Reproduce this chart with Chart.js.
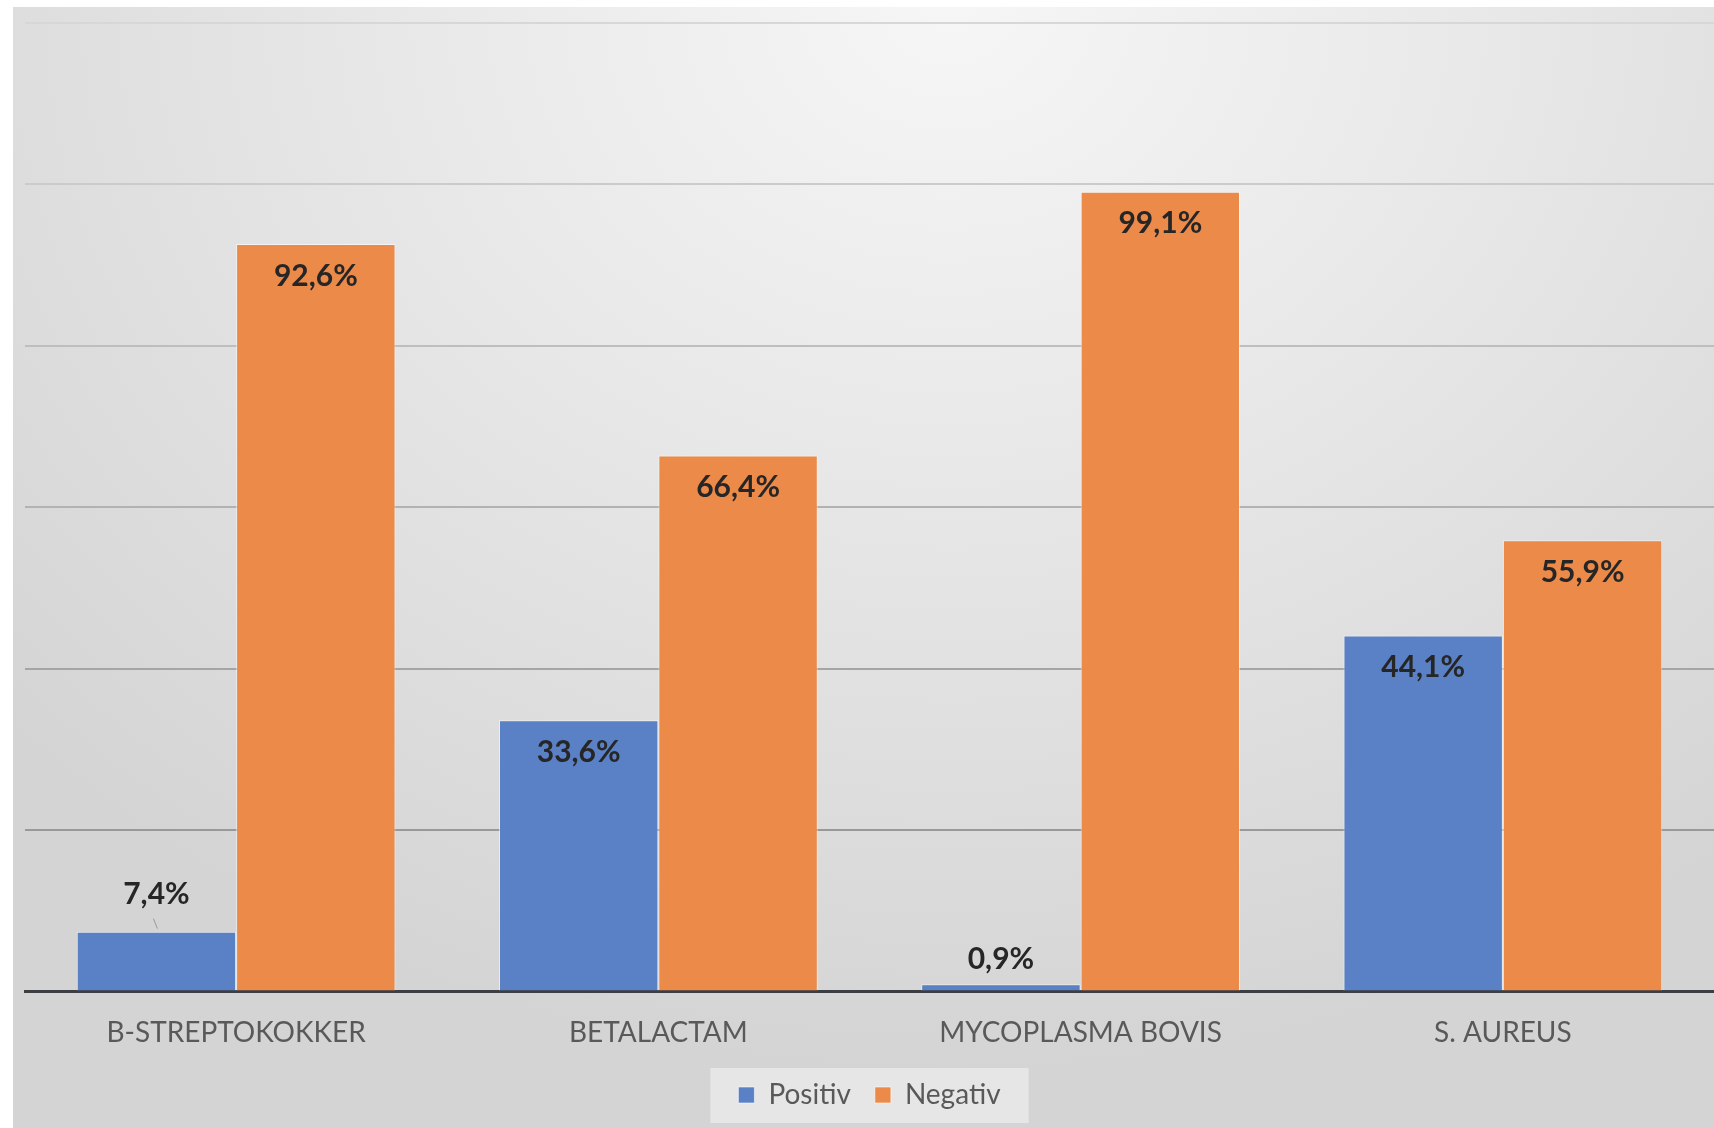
<!DOCTYPE html>
<html>
<head>
<meta charset="utf-8">
<script src="https://cdn.jsdelivr.net/npm/chart.js@4.4.1/dist/chart.umd.min.js"></script>
<style>
  html, body { margin: 0; padding: 0; background: #ffffff; }
  #wrap {
    position: absolute; left: 13px; top: 7px; width: 1701px; height: 1121px;
    background: radial-gradient(ellipse 75% 95% at 55% 0%, #f6f6f6 0%, #e9e9e9 40%, #d4d4d4 100%);
  }
</style>
</head>
<body>
<div id="wrap"><canvas id="chart"></canvas></div>
<script>
const categories = ["B-STREPTOKOKKER", "BETALACTAM", "MYCOPLASMA BOVIS", "S. AUREUS"];
const positiv = [7.4, 33.6, 0.9, 44.1];
const negativ = [92.6, 66.4, 99.1, 55.9];
const yTicks = [0, 20, 40, 60, 80, 100, 120];

const fmt = (v) => v.toFixed(1).replace(".", ",") + "%";

// gridlines get darker towards the bottom, like the screenshot
const gridColor = (ctx) => {
  const v = ctx.tick ? ctx.tick.value : 0;
  const g = Math.round(140 + (v / 120) * 75);
  return `rgb(${g},${g},${g})`;
};

const legendBox = {
  id: "legendBox",
  beforeDraw(chart) {
    const boxes = chart.legend && chart.legend.legendHitBoxes;
    if (!boxes || !boxes.length) return;
    const left = Math.min(...boxes.map(b => b.left)) - 28;
    const right = Math.max(...boxes.map(b => b.left + b.width)) + 28;
    const mid = boxes[0].top + boxes[0].height / 2;
    const ctx = chart.ctx;
    ctx.save();
    ctx.fillStyle = "rgba(236,236,236,0.75)";
    ctx.fillRect(left, mid - 27, right - left, 55);
    ctx.restore();
  }
};

const valueLabels = {
  id: "valueLabels",
  afterDatasetsDraw(chart) {
    const ctx = chart.ctx;
    ctx.save();
    ctx.font = "bold 30px Lato";
    ctx.fillStyle = "#262626";
    ctx.textAlign = "center";
    ctx.textBaseline = "middle";
    chart.data.datasets.forEach((ds, i) => {
      chart.getDatasetMeta(i).data.forEach((bar, j) => {
        const v = ds.data[j];
        let y;
        if (v < 5) {
          y = bar.y - 25;
        } else if (v < 10) {
          y = bar.y - 37;
          ctx.strokeStyle = "#9a9a9a";
          ctx.lineWidth = 1;
          ctx.beginPath();
          ctx.moveTo(bar.x - 3, bar.y - 13);
          ctx.lineTo(bar.x + 1, bar.y - 3);
          ctx.stroke();
        } else {
          y = bar.y + 32;
        }
        ctx.fillText(fmt(v), bar.x, y);
      });
    });
    ctx.restore();
  }
};

const config = {
  type: "bar",
  data: {
    labels: categories,
    datasets: [
      {
        label: "Positiv",
        data: positiv,
        backgroundColor: "#5a80c6",
        borderColor: "rgba(255,255,255,0.55)",
        borderWidth: 1,
        categoryPercentage: 0.755,
        barPercentage: 1.0,
      },
      {
        label: "Negativ",
        data: negativ,
        backgroundColor: "#eb8a49",
        borderColor: "rgba(255,255,255,0.55)",
        borderWidth: 1,
        categoryPercentage: 0.755,
        barPercentage: 1.0,
      },
    ],
  },
  options: {
    responsive: true,
    maintainAspectRatio: false,
    animation: false,
    layout: {
      padding: { left: 12, right: 0, top: 16, bottom: 9 },
    },
    scales: {
      x: {
        grid: { display: false, drawTicks: false },
        border: { display: true, color: "#3b3f44", width: 3 },
        ticks: {
          color: "#595959",
          font: { family: "Lato", size: 28 },
          padding: 25,
        },
        afterFit: (scale) => { scale.height -= 18; },
      },
      y: {
        min: 0,
        max: 120,
        afterBuildTicks: (scale) => {
          scale.ticks = yTicks.map(v => ({ value: v }));
        },
        ticks: { display: false },
        border: { display: false },
        grid: { color: gridColor, lineWidth: 2, drawTicks: false },
      },
    },
    plugins: {
      legend: {
        position: "bottom",
        labels: {
          color: "#595959",
          font: { family: "Lato", size: 28 },
          boxWidth: 16,
          boxHeight: 16,
          padding: 24,
        },
      },
      tooltip: { enabled: false },
    },
  },
  plugins: [legendBox, valueLabels],
};

document.addEventListener("DOMContentLoaded", function () {
  new Chart(document.getElementById("chart"), config);
});
</script>
</body>
</html>
